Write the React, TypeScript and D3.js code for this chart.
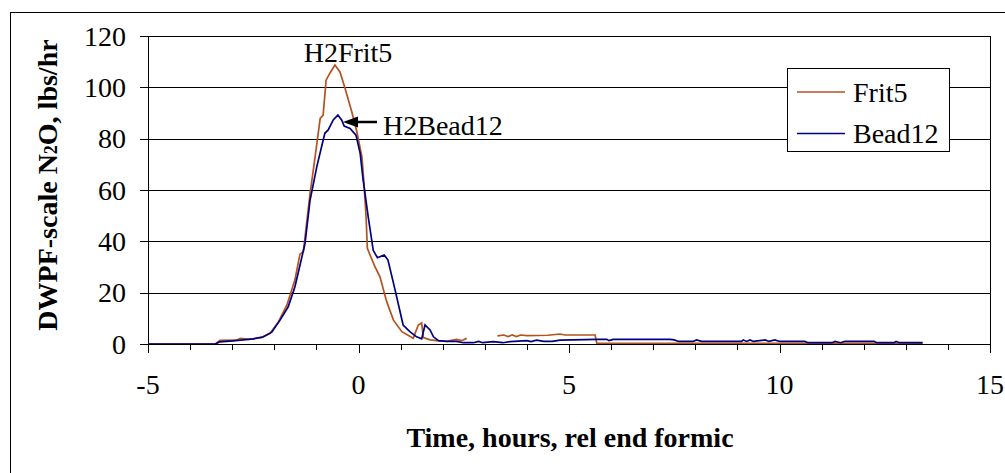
import React from "react";
import * as d3 from "d3";

const frit5Time = [-5, -3.4, -3.29, -2.9, -2.81, -2.6, -2.3, -2.1, -1.9, -1.7, -1.51, -1.39, -1.31, -1.15, -1.03, -0.91, -0.84, -0.77, -0.68, -0.56, -0.44, -0.32, -0.16, -0.04, 0.08, 0.13, 0.18, 0.21, 0.39, 0.51, 0.67, 0.83, 1.03, 1.3, 1.42, 1.5, 1.54, 1.7, 1.86, 2.1, 2.33, 2.45, 2.57, 2.6, 3.3, 3.45, 3.55, 3.65, 3.75, 3.85, 4.0, 4.5, 4.79, 4.9, 5.62, 5.66, 13.4];
const frit5Value: (number | null)[] = [0, 0, 1.4, 1.5, 2.2, 1.8, 2.5, 4.2, 8.7, 15.2, 25.0, 35.0, 36.0, 58.7, 73, 87.9, 89.2, 102.8, 105.5, 108.7, 106, 99.6, 90.5, 82.7, 73, 62.6, 49.6, 37.3, 30.1, 26.2, 16.5, 9.3, 4.8, 2.2, 7.4, 8.2, 2.5, 1.6, 1.3, 1.0, 1.8, 1.3, 2.2, null, 3.2, 3.5, 2.9, 3.5, 2.9, 3.5, 3.3, 3.4, 3.9, 3.5, 3.5, 0.3, 0.3];

const bead12Time = [-5, -3.4, -3.3, -2.98, -2.5, -2.26, -2.06, -1.86, -1.67, -1.51, -1.4, -1.27, -1.15, -0.99, -0.8, -0.72, -0.6, -0.49, -0.4, -0.34, -0.2, -0.06, 0.04, 0.11, 0.23, 0.35, 0.45, 0.61, 0.7, 0.87, 1.06, 1.22, 1.38, 1.5, 1.58, 1.7, 1.78, 1.9, 2.1, 2.33, 2.49, 2.73, 2.85, 2.95, 3.2, 3.43, 3.6, 4.0, 4.1, 4.23, 4.4, 4.6, 4.79, 5.66, 5.9, 5.95, 6.05, 7.4, 7.5, 7.6, 7.95, 8.03, 8.15, 9.1, 9.14, 9.22, 9.3, 9.38, 9.66, 9.75, 9.89, 10.0, 10.6, 10.68, 11.25, 11.32, 11.45, 11.55, 12.25, 12.31, 12.72, 12.77, 12.85, 13.4];
const bead12Value = [0, 0, 0.8, 1.2, 2.0, 2.8, 4.6, 9.4, 14.5, 22.3, 30, 39.2, 56.1, 69.1, 82.1, 83.4, 87.3, 89.2, 87.3, 84.9, 84, 81.4, 74.3, 63.9, 49.6, 36.5, 33.6, 34.7, 32.7, 21, 7.4, 4.8, 2.8, 2.0, 7.4, 5.5, 2.8, 1.3, 1.0, 1.0, 0.5, 0.5, 1.0, 0.5, 0.9, 0.5, 0.9, 1.3, 0.9, 1.5, 1.0, 1.0, 1.5, 1.8, 1.8, 1.3, 1.8, 1.8, 1.6, 1.0, 1.0, 1.6, 1.0, 1.0, 1.6, 1.0, 1.6, 1.0, 1.6, 1.0, 1.6, 1.0, 1.0, 0.5, 0.5, 1.0, 0.5, 1.0, 1.0, 0.5, 0.5, 1.0, 0.5, 0.5];

const xTicks = [-5, 0, 5, 10, 15];
const xMinorTicks = d3.range(-5, 16, 1);
const yTicks = [0, 20, 40, 60, 80, 100, 120];
const seriesNames = ["Frit5", "Bead12"];
const seriesColors = ["#B5521F", "#000080"];

const FONT = "'Liberation Serif', 'Times New Roman', serif";

export default function App() {
  const x = d3.scaleLinear().domain([-5, 15]).range([148, 990]);
  const y = d3.scaleLinear().domain([0, 120]).range([344, 36]);

  const line = d3
    .line<[number, number | null]>()
    .defined((d) => d[1] !== null)
    .x((d) => x(d[0]))
    .y((d) => y(d[1] as number));

  const frit = frit5Time.map((t, i) => [t, frit5Value[i]] as [number, number | null]);
  const bead = bead12Time.map((t, i) => [t, bead12Value[i]] as [number, number | null]);

  return (
    <svg
      width={1005}
      height={473}
      style={{ position: "absolute", left: 0, top: 0, background: "#fff" }}
      fontFamily={FONT}
    >
      <rect x={10.5} y={12.5} width={1010} height={480} fill="#fff" stroke="#000" strokeWidth={1} />
      {/* gridlines */}
      {yTicks.map((t) => (
        <line key={"g" + t} x1={148} x2={990} y1={Math.round(y(t)) + 0.5} y2={Math.round(y(t)) + 0.5} stroke="#000" strokeWidth={1} />
      ))}
      {/* plot area right border */}
      <line x1={990.5} x2={990.5} y1={36} y2={344} stroke="#000" strokeWidth={1} />
      {/* y axis */}
      <line x1={148.5} x2={148.5} y1={36} y2={344} stroke="#000" strokeWidth={1} />
      {yTicks.map((t) => (
        <g key={"yt" + t}>
          <line x1={140} x2={148} y1={Math.round(y(t)) + 0.5} y2={Math.round(y(t)) + 0.5} stroke="#000" />
          <text x={126} y={y(t)} dy="0.35em" textAnchor="end" fontSize={28}>
            {t}
          </text>
        </g>
      ))}
      {/* x axis ticks */}
      {xMinorTicks.map((t) => (
        <line key={"xm" + t} x1={Math.round(x(t)) + 0.5} x2={Math.round(x(t)) + 0.5} y1={344} y2={xTicks.includes(t) ? 353 : 350} stroke="#000" />
      ))}
      {xTicks.map((t) => (
        <text key={"xt" + t} x={x(t)} y={394} textAnchor="middle" fontSize={28}>
          {t}
        </text>
      ))}
      {/* series */}
      <path d={line(frit) || ""} fill="none" stroke={seriesColors[0]} strokeWidth={1.7} />
      <path d={line(bead) || ""} fill="none" stroke={seriesColors[1]} strokeWidth={1.7} />
      {/* x axis line on top */}
      <line x1={148} x2={990} y1={344.5} y2={344.5} stroke="#000" strokeWidth={1} />
      {/* annotations */}
      <text x={348} y={62} textAnchor="middle" fontSize={28}>
        H2Frit5
      </text>
      <text x={383} y={135} fontSize={28}>
        H2Bead12
      </text>
      <line x1={377} x2={356} y1={122} y2={122} stroke="#000" strokeWidth={2.5} />
      <path d="M343,122 L358,116.5 L358,127.5 Z" fill="#000" />
      {/* legend */}
      <rect x={787.5} y={68.5} width={162} height={83} fill="#fff" stroke="#000" strokeWidth={1} />
      {seriesNames.map((n, i) => (
        <g key={n}>
          <line x1={797} x2={845} y1={92 + i * 41.5} y2={92 + i * 41.5} stroke={seriesColors[i]} strokeWidth={1.7} />
          <text x={853} y={92 + i * 41.5} dy="0.35em" fontSize={28}>
            {n}
          </text>
        </g>
      ))}
      {/* axis titles */}
      <text x={570} y={447} textAnchor="middle" fontSize={28} fontWeight="bold">
        Time, hours, rel end formic
      </text>
      <text transform="translate(57,185) rotate(-90)" textAnchor="middle" fontSize={28} fontWeight="bold">
        DWPF-scale N
        <tspan fontSize={18}>2</tspan>
        O, lbs/hr
      </text>
    </svg>
  );
}
